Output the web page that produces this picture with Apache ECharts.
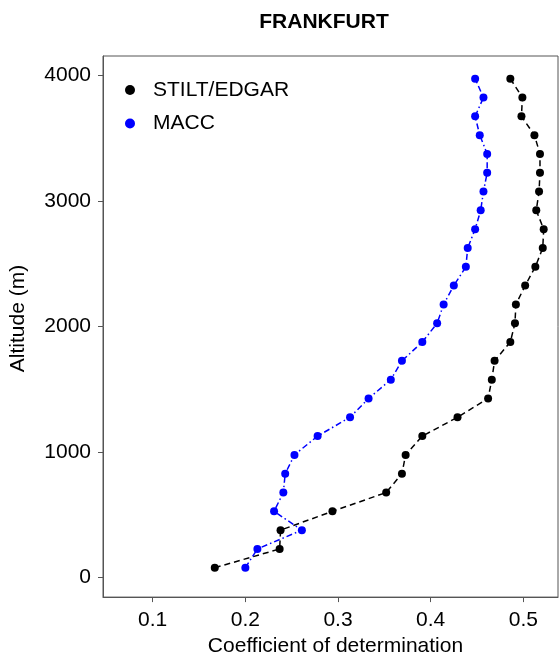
<!DOCTYPE html>
<html>
<head>
<meta charset="utf-8">
<script src="https://cdn.jsdelivr.net/npm/echarts@6/dist/echarts.min.js"></script>
<style>
html,body{margin:0;padding:0;background:#fff;}
#c{width:559px;height:662px;}
</style>
</head>
<body>
<div id="c"></div>
<script>
const altitudes = [75,225,375,525,675,825,975,1125,1275,1425,1575,1725,1875,2025,2175,2325,2475,2625,2775,2925,3075,3225,3375,3525,3675,3825,3975];
const stiltEdgar = [0.167,0.237,0.238,0.294,0.352,0.369,0.373,0.391,0.429,0.462,0.466,0.469,0.486,0.491,0.492,0.502,0.513,0.521,0.522,0.514,0.517,0.518,0.518,0.512,0.498,0.499,0.486];
const macc = [0.200,0.213,0.261,0.231,0.241,0.243,0.253,0.278,0.313,0.333,0.357,0.369,0.391,0.407,0.414,0.425,0.438,0.440,0.448,0.454,0.457,0.461,0.461,0.453,0.448,0.457,0.448];
const xTicks = [0.1,0.2,0.3,0.4,0.5];
const yTicks = [0,1000,2000,3000,4000];
const seriesNames = ['STILT/EDGAR','MACC'];

const FONT = 'Liberation Sans';
const zip = (vals) => vals.map((v,i)=>[v, altitudes[i]]);

const chart = echarts.init(document.getElementById('c'), null, {renderer:'canvas'});
chart.setOption({
  animation:false,
  backgroundColor:'#fff',
  title:{
    text:'FRANKFURT',
    left:319, top:7, textAlign:'center',
    textStyle:{fontFamily:FONT,fontSize:21,fontWeight:'bold',color:'#000'}
  },
  legend:{
    orient:'vertical',
    left:120, top:73,
    icon:'circle',
    itemWidth:10, itemHeight:10,
    itemGap:9.5,
    data:seriesNames,
    textStyle:{fontFamily:FONT,fontSize:21,color:'#000',lineHeight:24,padding:[0,0,0,13]}
  },
  grid:{
    left:103, top:56, right:1, bottom:63,
    show:true, borderColor:'#555', borderWidth:1
  },
  xAxis:{
    type:'value',
    min:0.04636, max:0.53745,
    name:'Coefficient of determination',
    nameLocation:'middle', nameGap:36,
    nameTextStyle:{fontFamily:FONT,fontSize:21,color:'#000',padding:[0,0,0,10]},
    axisLine:{show:true,onZero:false,lineStyle:{color:'#555'}},
    axisTick:{show:true,length:5,lineStyle:{color:'#555'},customValues:xTicks},
    axisLabel:{fontFamily:FONT,fontSize:21,color:'#000',margin:13,customValues:xTicks,
      formatter:(v)=>v.toFixed(1)},
    splitLine:{show:false}
  },
  yAxis:{
    type:'value',
    min:-159, max:4156,
    name:'Altitude (m)',
    nameLocation:'middle', nameGap:74,
    nameRotate:90,
    nameTextStyle:{fontFamily:FONT,fontSize:21,color:'#000',padding:[0,0,0,16]},
    axisLine:{show:true,onZero:false,lineStyle:{color:'#555'}},
    axisTick:{show:true,length:5,lineStyle:{color:'#555'},customValues:yTicks},
    axisLabel:{fontFamily:FONT,fontSize:21,color:'#000',margin:12,customValues:yTicks,
      formatter:(v)=>String(Math.round(v))},
    splitLine:{show:false}
  },
  series:[
    {
      name:seriesNames[0], type:'line',
      data:zip(stiltEdgar),
      symbol:'circle', symbolSize:8,
      itemStyle:{color:'#000'},
      lineStyle:{color:'#000',width:1.5,type:[6,4]}
    },
    {
      name:seriesNames[1], type:'line',
      data:zip(macc),
      symbol:'circle', symbolSize:8,
      itemStyle:{color:'#0000ff'},
      lineStyle:{color:'#0000ff',width:1.5,type:[6,3,1.5,3]}
    }
  ]
});
</script>
</body>
</html>
